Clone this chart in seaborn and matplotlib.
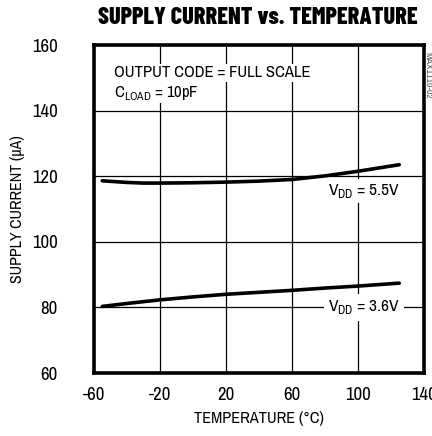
import matplotlib
matplotlib.use("Agg")
import matplotlib.pyplot as plt
import seaborn as sns
import pandas as pd

temp_55 = [-55, -40, -30, -20, 0, 20, 40, 60, 80, 100, 125]
cur_55 = [118.6, 118.1, 117.9, 117.9, 118.0, 118.2, 118.5, 119.0, 120.1, 121.5, 123.5]
temp_36 = [-55, -40, -20, 0, 20, 40, 60, 80, 100, 125]
cur_36 = [80.3, 81.2, 82.3, 83.2, 84.0, 84.6, 85.2, 85.9, 86.5, 87.4]

x_ticks = [-60, -20, 20, 60, 100, 140]
y_ticks = [60, 80, 100, 120, 140, 160]

sns.set_theme(style="white")
plt.rcParams['font.family'] = ['Archivo Narrow', 'DejaVu Sans']
plt.rcParams['mathtext.fontset'] = 'custom'
plt.rcParams['mathtext.rm'] = 'Archivo Narrow'

df = pd.concat([
    pd.DataFrame({"temp": temp_55, "cur": cur_55, "vdd": "5.5V"}),
    pd.DataFrame({"temp": temp_36, "cur": cur_36, "vdd": "3.6V"}),
])

fig = plt.figure(figsize=(4.32, 4.36), dpi=100)
ax = fig.add_axes([94/432, 1-373/436, 330/432, 328/436])

sns.lineplot(data=df, x="temp", y="cur", units="vdd", estimator=None,
             color="black", linewidth=2.6, ax=ax, legend=False)

ax.set_xlim(-60, 140)
ax.set_ylim(60, 160)
ax.set_xticks(x_ticks)
ax.set_yticks(y_ticks)
ax.set_xticklabels([str(v) for v in x_ticks])
ax.set_yticklabels([str(v) for v in y_ticks])
ax.grid(True, color="black", linewidth=0.9)
ax.set_axisbelow(True)
for s in ax.spines.values():
    s.set_linewidth(2.6)
    s.set_color("black")
ax.tick_params(axis="both", length=0, labelsize=13.5, colors="black")
ax.tick_params(axis="x", pad=10)
ax.tick_params(axis="y", pad=26)

ax.set_xlabel("TEMPERATURE (°C)", fontsize=11.8, color="black", labelpad=6)
ax.set_ylabel("SUPPLY CURRENT (µA)", fontsize=11.5, color="black", labelpad=5)

fig.text(258/432, 1-18/436, "SUPPLY CURRENT vs. TEMPERATURE", ha="center", va="center",
         fontsize=17.5, fontweight=800, color="black",
         family=['Barlow Condensed', 'Asap Condensed', 'DejaVu Sans'])

ax.text(-48, 151.5, "OUTPUT CODE = FULL SCALE", fontsize=12, ha="left", va="center",
        color="black", bbox=dict(facecolor="white", edgecolor="none", pad=1))
ax.text(-48, 145.5, "C$_{\\mathregular{LOAD}}$ = 10pF", fontsize=12, ha="left", va="center",
        color="black", bbox=dict(facecolor="white", edgecolor="none", pad=1))
ax.text(125.5, 115.5, "V$_{\\mathregular{DD}}$ = 5.5V", fontsize=12.5, ha="right", va="center",
        color="black", bbox=dict(facecolor="white", edgecolor="none", pad=2))
ax.text(125.5, 80, "V$_{\\mathregular{DD}}$ = 3.6V", fontsize=12.5, ha="right", va="center",
        color="black", bbox=dict(facecolor="white", edgecolor="none", pad=3))

fig.text(428/432, 1-75/436, "MAX1110-02", rotation=-90, fontsize=7, color="#555555",
         ha="center", va="center")

fig.savefig("out.png", dpi=100)
